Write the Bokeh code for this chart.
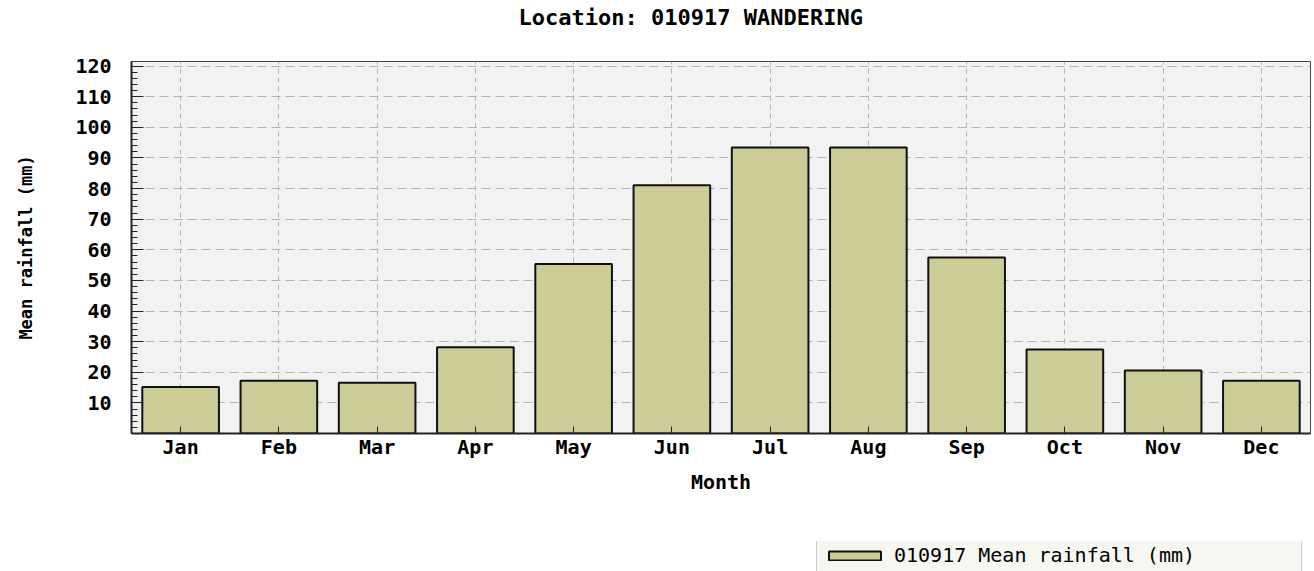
from bokeh.plotting import figure
from bokeh.models import FactorRange, Range1d, FixedTicker, Legend, LegendItem, ColumnDataSource, Label
from bokeh.layouts import column
from bokeh.embed import file_html
from bokeh.resources import INLINE

months = ["Jan", "Feb", "Mar", "Apr", "May", "Jun", "Jul", "Aug", "Sep", "Oct", "Nov", "Dec"]
rainfall = [15.2, 17.2, 16.6, 28.2, 55.4, 81.1, 93.4, 93.4, 57.5, 27.4, 20.6, 17.2]
y_ticks = [10, 20, 30, 40, 50, 60, 70, 80, 90, 100, 110, 120]
y_minor_ticks = list(range(2, 121, 2))
title_text = "Location: 010917 WANDERING"
series_label = "010917 Mean rainfall (mm)"
x_label = "Month"
y_label = "Mean rainfall (mm)"

MONO = "DejaVu Sans Mono"
BAR_FILL = "#cccc99"
BAR_LINE = "#111111"

source = ColumnDataSource(data=dict(month=months, rain=rainfall))


def strip(height):
    f = figure(width=1314, height=height, output_backend="svg", toolbar_location=None,
               x_range=FactorRange(factors=months), y_range=Range1d(0, 1),
               x_axis_location=None, y_axis_location=None,
               min_border_left=0, min_border_right=0, min_border_top=0, min_border_bottom=0)
    f.outline_line_color = None
    f.grid.visible = False
    f.background_fill_color = "#ffffff"
    f.border_fill_color = "#ffffff"
    return f


# title strip
tf = strip(30)
tf.add_layout(Label(x=387, y=13.5, x_units="screen", y_units="screen", text=title_text,
                    text_font=MONO, text_font_size="22px", text_font_style="bold",
                    text_color="#000000", text_align="left", text_baseline="middle"))

# main chart
p = figure(width=1314, height=511,
           x_range=FactorRange(factors=months),
           y_range=Range1d(0, 121.5),
           output_backend="svg", toolbar_location=None,
           min_border_left=131, min_border_right=4,
           min_border_top=31, min_border_bottom=108)

p.background_fill_color = "#f2f2f2"
p.border_fill_color = "#ffffff"
p.outline_line_color = "#444444"
p.outline_line_width = 1

r = p.vbar(x="month", top="rain", width=0.78, source=source,
           fill_color=BAR_FILL, line_color=BAR_LINE, line_width=2)

# y axis
yax = p.yaxis[0]
yax.ticker = FixedTicker(ticks=y_ticks, minor_ticks=y_minor_ticks)
yax.major_tick_in = 12
yax.major_tick_out = 0
yax.minor_tick_in = 6
yax.minor_tick_out = 0
yax.major_tick_line_color = "#222222"
yax.minor_tick_line_color = "#222222"
yax.axis_line_width = 2
yax.axis_line_color = "#222222"
yax.major_label_standoff = 20
yax.major_label_text_font = MONO
yax.major_label_text_font_style = "bold"
yax.major_label_text_font_size = "20px"
yax.major_label_text_color = "#000000"
yax.axis_label = y_label
yax.axis_label_text_font = MONO
yax.axis_label_text_font_style = "bold"
yax.axis_label_text_font_size = "17px"
yax.axis_label_text_color = "#000000"
yax.axis_label_standoff = 36

# x axis
xax = p.xaxis[0]
xax.major_tick_in = 7
xax.major_tick_out = 0
xax.minor_tick_in = 0
xax.minor_tick_out = 0
xax.major_tick_line_color = "#222222"
xax.axis_line_width = 2
xax.axis_line_color = "#222222"
xax.major_label_standoff = 1
xax.major_label_text_font = MONO
xax.major_label_text_font_style = "bold"
xax.major_label_text_font_size = "20px"
xax.major_label_text_color = "#000000"
xax.axis_label = x_label
xax.axis_label_text_font = MONO
xax.axis_label_text_font_style = "bold"
xax.axis_label_text_font_size = "20px"
xax.axis_label_text_color = "#000000"
xax.axis_label_standoff = 8

# grids
p.ygrid.grid_line_color = "#b4b4b4"
p.ygrid.grid_line_dash = "9 5"
p.ygrid.grid_line_width = 1
p.xgrid.grid_line_color = "#b4b4b4"
p.xgrid.grid_line_dash = "5 4"
p.xgrid.grid_line_width = 1

# legend strip below the chart (a hidden copy of the bars gives the key)
lg = strip(30)
legend_r = lg.vbar(x="month", top="rain", width=0.78, source=source,
                   fill_color=BAR_FILL, line_color=BAR_LINE, line_width=2)
legend_r.visible = False

legend = Legend(items=[LegendItem(label=series_label, renderers=[legend_r])],
                location=(685, -2), orientation="vertical",
                padding=5, margin=0, spacing=0,
                glyph_width=65, glyph_height=11, label_standoff=7,
                label_width=402, label_height=11,
                label_text_font=MONO, label_text_font_size="20px",
                label_text_baseline="middle",
                label_text_color="#000000",
                inactive_fill_alpha=0.0,
                background_fill_color="#f7f7f2", background_fill_alpha=1.0,
                border_line_color="#a0a0a0", border_line_width=1)
lg.add_layout(legend)

layout = column(tf, p, lg, spacing=0)
open("out.html", "w").write(file_html(layout, INLINE))
